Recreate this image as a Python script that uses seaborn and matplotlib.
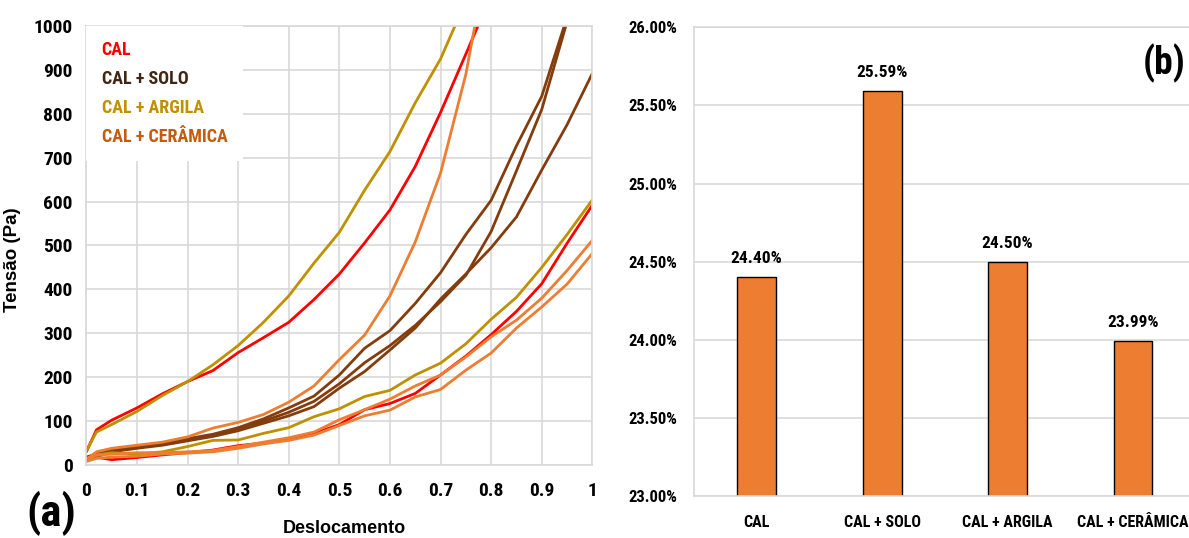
import pandas as pd
import matplotlib
matplotlib.use("Agg")
import matplotlib.pyplot as plt
import seaborn as sns
from matplotlib.lines import Line2D
from matplotlib.ticker import FuncFormatter, MultipleLocator

# ---- data ----
desloc = [0, 0.02, 0.05, 0.10, 0.15, 0.20, 0.25, 0.30, 0.35, 0.40, 0.45,
          0.50, 0.55, 0.60, 0.65, 0.70, 0.75, 0.80, 0.85, 0.90, 0.95, 1.00]

cal_1 = [30, 80, 102, 130, 162, 190, 215, 256, 290, 325, 377, 435, 506, 581, 680, 803, 936, 1070]
cal_2 = [15, 18, 12, 17, 23, 28, 34, 44, 50, 60, 72, 92, 126, 140, 163, 205, 248, 297, 350, 413, 505, 592]
solo_1 = [18, 25, 35, 42, 50, 60, 70, 85, 105, 130, 157, 205, 266, 306, 368, 438, 525, 603, 727, 840, 1020]
solo_2 = [15, 22, 35, 40, 48, 58, 68, 82, 100, 120, 145, 185, 233, 272, 318, 372, 432, 532, 670, 810, 1010]
solo_3 = [12, 20, 30, 38, 45, 55, 65, 78, 95, 112, 133, 175, 213, 262, 312, 378, 435, 495, 565, 672, 775, 892]
argila_1 = [32, 75, 92, 122, 158, 190, 228, 272, 325, 385, 460, 530, 626, 714, 825, 925, 1057]
argila_2 = [10, 23, 28, 25, 30, 42, 56, 57, 72, 85, 110, 128, 156, 170, 205, 232, 276, 332, 382, 450, 525, 604]
ceramica_1 = [12, 30, 38, 45, 52, 64, 84, 97, 115, 143, 180, 240, 296, 385, 508, 665, 890, 1200]
ceramica_2 = [15, 22, 25, 28, 28, 30, 33, 42, 52, 62, 75, 103, 126, 150, 180, 205, 246, 292, 330, 380, 443, 512]
ceramica_3 = [8, 15, 18, 20, 25, 27, 30, 38, 48, 56, 68, 90, 112, 125, 155, 172, 216, 255, 312, 360, 412, 482]

materiais = ["CAL", "CAL + SOLO", "CAL + ARGILA", "CAL + CERÂMICA"]
porosidade = [24.40, 25.59, 24.50, 23.99]

cores = {"CAL": "#FF0000", "CAL + SOLO": "#843C0C",
         "CAL + ARGILA": "#BF9000", "CAL + CERÂMICA": "#ED7D31"}
cores_texto = ["#FF0000", "#3F2714", "#BF9000", "#C55A11"]

ensaios = [("CAL", 1, cal_1), ("CAL", 2, cal_2),
           ("CAL + SOLO", 1, solo_1), ("CAL + SOLO", 2, solo_2), ("CAL + SOLO", 3, solo_3),
           ("CAL + ARGILA", 1, argila_1), ("CAL + ARGILA", 2, argila_2),
           ("CAL + CERÂMICA", 1, ceramica_1), ("CAL + CERÂMICA", 2, ceramica_2),
           ("CAL + CERÂMICA", 3, ceramica_3)]

rows = []
for mat, rep, ys in ensaios:
    for xv, yv in zip(desloc, ys):
        rows.append({"material": mat, "rep": rep, "x": xv, "y": yv})
df = pd.DataFrame(rows)

sns.set_theme(style="whitegrid")
narrow = ["Liberation Sans Narrow", "DejaVu Sans Condensed", "Roboto Condensed",
          "Liberation Sans", "DejaVu Sans"]
plain = ["Liberation Sans", "DejaVu Sans"]
plt.rcParams["font.family"] = narrow
plt.rcParams["font.weight"] = "bold"
plt.rcParams["text.color"] = "black"
plt.rcParams["axes.labelcolor"] = "black"
plt.rcParams["xtick.color"] = "black"
plt.rcParams["ytick.color"] = "black"
grid_c = "#D9D9D9"

fig = plt.figure(figsize=(11.89, 5.38), dpi=100)

# ---- (a) curves ----
ax1 = fig.add_axes([0.0726, 0.1357, 0.4256, 0.816])
sns.lineplot(data=df, x="x", y="y", hue="material", units="rep", estimator=None,
             palette=cores, hue_order=materiais, linewidth=2, legend=False, ax=ax1)
ax1.set_xlim(0, 1)
ax1.set_ylim(0, 1000)
ax1.xaxis.set_major_locator(MultipleLocator(0.1))
ax1.yaxis.set_major_locator(MultipleLocator(100))
ax1.xaxis.set_major_formatter(FuncFormatter(lambda v, p: f"{v:g}"))
ax1.grid(True, color=grid_c, linewidth=1.2)
for s in ax1.spines.values():
    s.set_color(grid_c)
    s.set_linewidth(1.2)
ax1.tick_params(axis="y", labelsize=14, pad=10, length=0)
ax1.tick_params(axis="x", labelsize=14, pad=12, length=0)
ax1.set_xlabel("Deslocamento", family=plain, fontsize=13, fontweight="bold")
ax1.xaxis.set_label_coords(0.51, -0.125)
ax1.set_ylabel("Tensão (Pa)", family=plain, fontsize=13.5, fontweight="bold")
ax1.yaxis.set_label_coords(-0.13, 0.467)

handles = [Line2D([], [], color=cores[m]) for m in materiais]
leg = ax1.legend(handles, materiais, loc="upper left", bbox_to_anchor=(0, 1),
                 borderaxespad=0, handlelength=0, handletextpad=0,
                 labelcolor=cores_texto, fontsize=13, frameon=True,
                 facecolor="white", edgecolor="none", framealpha=1,
                 fancybox=False, labelspacing=0.6, borderpad=0.85)
for h in leg.legend_handles:
    h.set_visible(False)

fig.text(0.022, 0.022, "(a)", fontsize=32, fontweight="bold")

# ---- (b) bars ----
ax2 = fig.add_axes([0.5837, 0.0781, 0.4219, 0.8712])
sns.barplot(x=materiais, y=porosidade, color="#ED7D31", saturation=1,
            edgecolor="black", linewidth=1, width=0.31, ax=ax2)
ax2.set_xlim(-0.5, 3.5)
ax2.set_ylim(23, 26)
ax2.yaxis.set_major_locator(MultipleLocator(0.5))
ax2.yaxis.set_major_formatter(FuncFormatter(lambda v, p: f"{v:.2f}%"))
ax2.grid(True, axis="y", color=grid_c, linewidth=1.2)
ax2.grid(False, axis="x")
for s in ax2.spines.values():
    s.set_color(grid_c)
    s.set_linewidth(1.2)
ax2.tick_params(axis="y", labelsize=12, pad=12, length=0)
ax2.tick_params(axis="x", labelsize=11.5, pad=14, length=0)
ax2.bar_label(ax2.containers[0], labels=[f"{v:.2f}%" for v in porosidade],
              fontsize=12.5, fontweight="bold", padding=8)
fig.text(0.9975, 0.862, "(b)", fontsize=27, fontweight="bold", ha="right")

fig.savefig("out.png", dpi=100)
